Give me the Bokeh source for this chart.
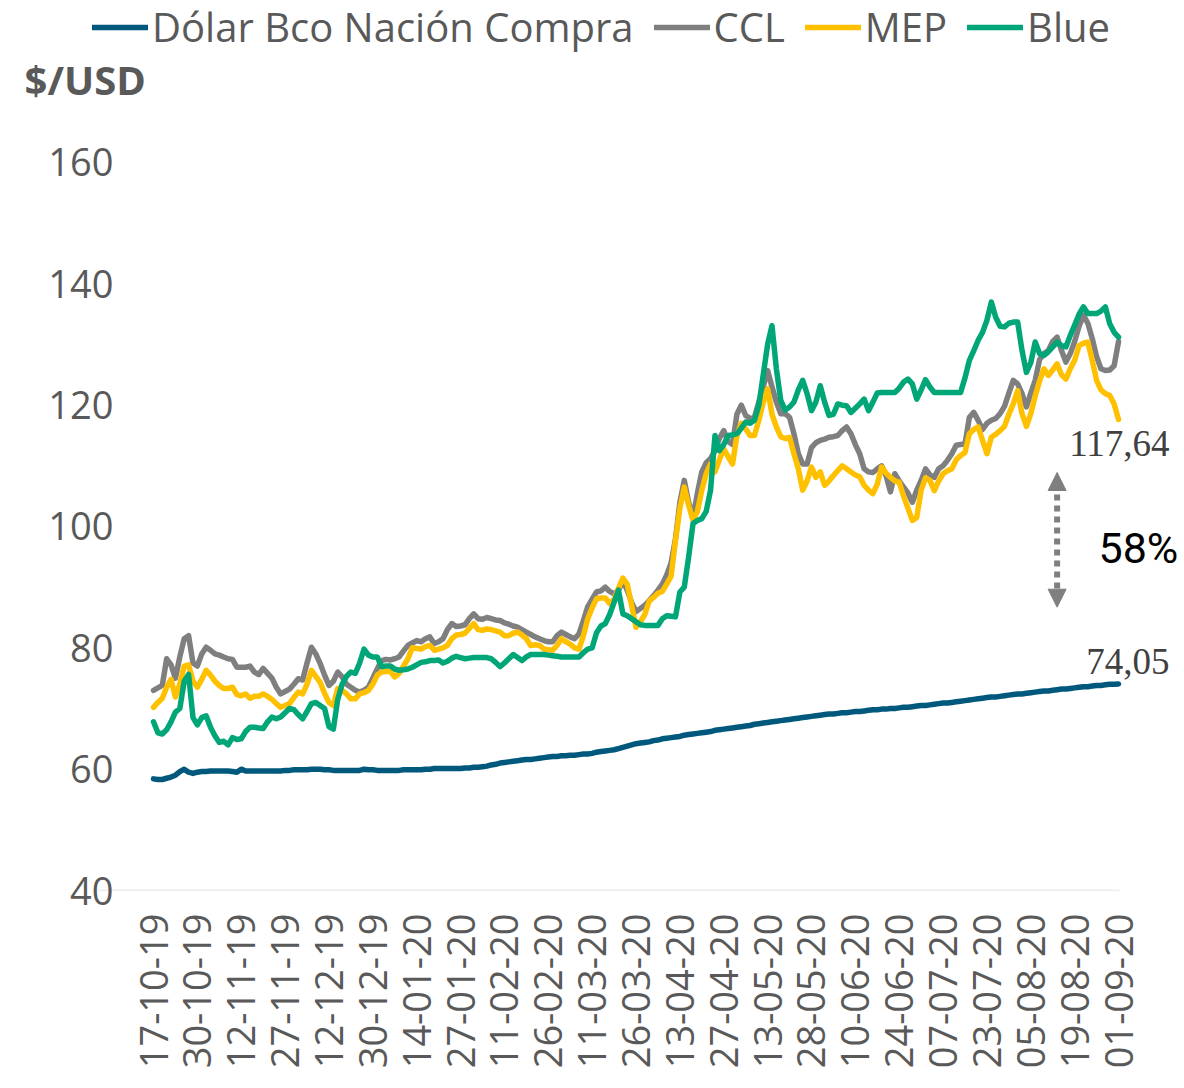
import math
from bokeh.plotting import figure
from bokeh.models import FixedTicker, Legend, LegendItem, Label, Arrow, NormalHead, Range1d
from bokeh.embed import file_html
from bokeh.resources import INLINE

# ---------------- data (daily, index 0 = 17-10-19 ... 220 = 01-09-20) ----------------
tick_labels = ["17-10-19", "30-10-19", "12-11-19", "27-11-19", "12-12-19", "30-12-19",
               "14-01-20", "27-01-20", "11-02-20", "26-02-20", "11-03-20", "26-03-20",
               "13-04-20", "27-04-20", "13-05-20", "28-05-20", "10-06-20", "24-06-20",
               "07-07-20", "23-07-20", "05-08-20", "19-08-20", "01-09-20"]
tick_index = [0, 10, 20, 30, 40, 50, 60, 70, 80, 90, 100, 110, 120, 130, 140, 150,
              160, 170, 180, 190, 200, 210, 220]

bna = [58.4, 58.3, 58.3, 58.5, 58.7, 59.0, 59.6, 60.0, 59.5, 59.3,
       59.5, 59.6, 59.6, 59.7, 59.7, 59.7, 59.7, 59.7, 59.6, 59.5,
       60.0, 59.7, 59.7, 59.7, 59.7, 59.7, 59.7, 59.7, 59.7, 59.7,
       59.8, 59.8, 59.9, 59.9, 59.9, 59.9, 60.0, 60.0, 60.0, 59.9,
       59.9, 59.8, 59.8, 59.8, 59.8, 59.8, 59.8, 59.8, 60.0, 59.9,
       59.9, 59.8, 59.8, 59.8, 59.8, 59.8, 59.8, 59.9, 59.9, 59.9,
       59.9, 59.9, 60.0, 60.0, 60.1, 60.1, 60.1, 60.1, 60.1, 60.1,
       60.1, 60.2, 60.2, 60.3, 60.3, 60.4, 60.5, 60.7, 60.8, 61.0,
       61.1, 61.2, 61.3, 61.4, 61.5, 61.6, 61.6, 61.7, 61.8, 61.9,
       62.0, 62.1, 62.1, 62.2, 62.2, 62.3, 62.3, 62.4, 62.5, 62.5,
       62.6, 62.8, 62.9, 63.0, 63.1, 63.2, 63.4, 63.6, 63.8, 64.0,
       64.2, 64.3, 64.4, 64.5, 64.7, 64.8, 65.0, 65.1, 65.2, 65.3,
       65.4, 65.6, 65.7, 65.8, 65.9, 66.0, 66.1, 66.2, 66.4, 66.5,
       66.6, 66.7, 66.8, 66.9, 67.0, 67.1, 67.2, 67.4, 67.5, 67.6,
       67.7, 67.8, 67.9, 68.0, 68.1, 68.2, 68.3, 68.4, 68.5, 68.6,
       68.7, 68.8, 68.9, 69.0, 69.1, 69.1, 69.2, 69.3, 69.3, 69.4,
       69.5, 69.5, 69.6, 69.7, 69.8, 69.8, 69.9, 69.9, 70.0, 70.0,
       70.1, 70.2, 70.2, 70.3, 70.4, 70.5, 70.5, 70.6, 70.7, 70.8,
       70.9, 70.9, 71.0, 71.1, 71.2, 71.3, 71.4, 71.5, 71.6, 71.7,
       71.8, 71.9, 71.9, 72.0, 72.1, 72.2, 72.3, 72.4, 72.4, 72.5,
       72.6, 72.7, 72.8, 72.9, 72.9, 73.0, 73.1, 73.2, 73.2, 73.3,
       73.4, 73.5, 73.6, 73.6, 73.7, 73.8, 73.8, 73.9, 74.0, 74.0,
       74.05]

ccl = [73.0, 73.4, 73.8, 78.2, 77.2, 75.0, 78.5, 81.5, 82.0, 77.5,
       77.0, 79.0, 80.1, 79.6, 79.0, 78.8, 78.5, 78.2, 78.1, 76.8,
       76.8, 76.8, 77.0, 76.0, 75.6, 76.6, 75.8, 75.0, 73.5, 72.4,
       72.8, 73.2, 74.0, 74.9, 74.7, 77.5, 80.1, 79.0, 77.4, 75.5,
       73.8, 74.5, 76.0, 75.2, 74.0, 73.5, 73.0, 72.7, 73.0, 73.5,
       75.0, 76.5, 77.9, 78.1, 78.0, 78.2, 78.5, 79.5, 80.4, 80.8,
       81.2, 81.0, 81.5, 81.8, 80.7, 81.0, 81.5, 83.0, 84.0, 83.5,
       83.6, 83.8, 84.8, 85.6, 84.8, 84.7, 85.0, 84.8, 84.6, 84.5,
       84.1, 83.9, 83.6, 83.4, 83.0, 82.6, 82.2, 81.8, 81.5, 81.2,
       81.0, 81.0, 82.0, 82.6, 82.2, 81.8, 81.5, 82.3, 84.5, 86.8,
       88.0, 89.2, 89.4, 90.0, 89.3, 88.9, 89.5, 91.0, 89.5, 87.5,
       86.0, 86.5, 87.0, 87.8, 88.6, 89.5, 90.5, 92.0, 94.0, 98.0,
       104.0, 107.6, 104.0, 101.5, 105.5, 109.0, 110.5, 111.2, 112.5, 114.5,
       115.8, 114.0, 113.5, 118.5, 120.0, 118.3, 117.8, 118.0, 120.5, 123.0,
       125.7, 123.0, 120.5, 118.6, 118.6, 118.0, 115.3, 112.0, 110.3, 110.3,
       113.0, 113.8, 114.2, 114.4, 114.7, 114.8, 115.0, 115.8, 116.4, 115.3,
       113.5, 112.0, 109.5, 109.0, 108.9, 109.5, 110.0, 108.4, 105.7, 108.7,
       107.5, 106.5, 105.5, 104.0, 106.0, 107.6, 109.5, 108.5, 108.1, 109.5,
       110.0, 110.9, 112.0, 113.4, 113.5, 113.6, 118.0, 118.8, 117.5, 116.0,
       117.0, 117.5, 117.8, 118.6, 119.8, 122.0, 124.1, 123.5, 121.9, 119.7,
       122.0, 124.1, 127.5, 128.5, 129.0, 130.5, 131.2, 129.0, 127.1, 128.5,
       130.5, 133.0, 134.8, 133.5, 131.0, 128.0, 126.0, 125.7, 125.8, 126.5,
       130.5]

mep = [70.2, 71.0, 71.7, 73.5, 74.8, 71.9, 74.0, 77.0, 77.2, 74.5,
       73.5, 74.8, 76.3, 75.5, 74.5, 73.8, 73.3, 73.3, 73.5, 72.3,
       72.1, 72.4, 71.7, 72.0, 72.0, 72.4, 72.0, 71.5, 70.8, 70.2,
       70.5, 70.8, 71.8, 72.7, 72.4, 74.0, 76.3, 75.3, 74.3, 72.5,
       71.0, 70.5, 73.3, 73.0, 72.4, 71.6, 71.6, 72.4, 72.6, 73.0,
       74.0, 75.5, 76.0, 76.1, 76.1, 75.2, 75.8, 77.0, 78.2, 80.0,
       79.9, 79.8, 80.2, 80.4, 79.6, 79.8, 80.0, 80.4, 81.5, 82.1,
       82.2, 82.4, 83.2, 84.0, 83.0, 82.9, 83.1, 83.0, 82.8, 82.6,
       82.0, 82.0, 82.4, 82.6, 82.1, 81.5, 80.4, 80.5, 80.4, 79.8,
       79.7, 79.6, 80.4, 81.5, 81.0, 80.6, 80.0, 79.8, 82.0, 84.8,
       86.6, 88.1, 88.2, 88.2, 87.3, 88.0, 89.8, 91.5, 90.5, 87.0,
       83.4, 84.3, 85.5, 87.7, 88.3, 89.0, 89.3, 90.5, 91.8, 97.7,
       103.0, 106.5, 103.5, 101.0, 102.5, 106.0, 108.7, 110.3, 109.0, 111.0,
       112.8, 111.5, 110.3, 115.0, 117.0, 116.1, 115.0, 115.0, 117.5, 120.5,
       122.7, 118.5, 116.4, 114.8, 114.5, 114.7, 112.0, 109.5, 106.0, 107.5,
       109.8, 108.1, 109.0, 106.8, 107.5, 108.4, 109.2, 110.0, 109.5, 109.0,
       108.5, 108.2, 106.8, 106.0, 105.4, 107.0, 109.8, 108.8, 108.1, 107.5,
       107.3, 105.0, 103.0, 101.0, 101.5, 106.0, 108.0, 107.6, 105.9, 107.5,
       108.7, 109.2, 109.5, 111.0, 111.7, 112.2, 115.3, 116.0, 116.4, 114.2,
       112.0, 114.7, 115.2, 115.8, 116.5, 118.5, 120.2, 122.4, 118.6, 116.5,
       118.6, 121.5, 124.0, 126.0, 124.9, 125.8, 126.8, 125.0, 124.3, 126.0,
       127.4, 129.8, 130.2, 130.4, 127.4, 124.1, 122.5, 121.9, 121.6, 120.2,
       117.64]

blue = [67.8, 66.0, 65.8, 66.5, 67.8, 69.4, 70.0, 74.5, 75.6, 68.5,
        67.3, 68.5, 68.8, 66.9, 65.5, 64.4, 64.6, 64.0, 65.2, 64.9,
        65.0, 66.2, 66.9, 66.9, 66.8, 66.7, 67.8, 68.6, 68.3, 68.6,
        69.3, 70.0, 69.8, 69.0, 68.3, 69.5, 70.8, 71.0, 70.5, 70.0,
        67.0, 66.6, 71.5, 74.0, 75.3, 76.0, 75.8, 77.5, 79.8, 78.8,
        78.5, 78.5, 76.9, 77.0, 77.0, 76.5, 76.3, 76.4, 76.5, 76.8,
        77.2, 77.6, 77.7, 77.9, 77.9, 78.0, 77.5, 77.8, 78.3, 78.6,
        78.4, 78.2, 78.3, 78.4, 78.4, 78.4, 78.4, 78.2, 77.6, 76.9,
        77.5, 78.2, 78.9, 78.4, 77.9, 78.5, 78.9, 78.9, 78.9, 78.9,
        78.8, 78.7, 78.6, 78.5, 78.5, 78.5, 78.5, 78.5, 79.2, 79.8,
        80.0, 82.5, 83.6, 84.0, 85.5, 87.5, 89.5, 85.6, 85.3, 84.8,
        84.3, 83.8, 83.7, 83.7, 83.7, 83.7, 84.8, 85.3, 85.2, 85.1,
        89.2, 90.0, 95.0, 100.5, 101.0, 101.3, 102.5, 106.0, 115.0, 112.5,
        113.5, 115.0, 115.1, 115.3, 116.2, 117.2, 117.0, 117.5, 120.0, 125.0,
        130.0, 133.1, 126.0, 120.8, 119.2, 119.7, 120.5, 122.5, 124.1, 121.9,
        119.1, 120.5, 123.2, 120.5, 118.3, 118.5, 120.2, 120.0, 119.9, 118.8,
        119.5, 120.2, 121.0, 119.1, 120.5, 122.0, 122.1, 122.1, 122.1, 122.1,
        122.8, 123.8, 124.3, 123.5, 121.0, 122.5, 124.2, 123.0, 122.1, 122.1,
        122.1, 122.1, 122.1, 122.1, 122.1, 124.5, 127.4, 129.0, 130.7, 132.0,
        134.0, 137.0, 134.5, 133.0, 132.9, 133.5, 133.7, 133.7, 129.0, 125.4,
        127.0, 130.4, 128.5, 128.2, 128.8, 129.6, 130.4, 129.8, 129.6, 131.5,
        133.2, 135.0, 136.2, 135.1, 135.1, 135.1, 135.5, 136.2, 133.4, 132.0,
        131.2]

series_names = ["Dólar Bco Nación Compra", "CCL", "MEP", "Blue"]
series_colors = ["#00597C", "#7F7F7F", "#FFC000", "#00A677"]
y_ticks = [40, 60, 80, 100, 120, 140, 160]
gap_text = "58%"

# ---------------- figure ----------------
W, H = 1184, 1088
FONT = "Open Sans"
TXT = "#595959"

# frame covers the whole canvas except the date-label band at the bottom,
# so that the legend and the annotations are not clipped
p = figure(width=W, height=H, output_backend="svg", toolbar_location=None,
           x_range=Range1d(-34.88, 235.04), y_range=Range1d(40, 186.7),
           min_border_left=0, min_border_right=0, min_border_top=0,
           min_border_bottom=198)
p.outline_line_color = None
p.grid.visible = False
p.background_fill_color = "white"
p.border_fill_color = "white"

# baseline of the category axis (spans the plotted category range)
p.segment(x0=[-12.54], y0=[y_ticks[0]], x1=[220.23], y1=[y_ticks[0]],
          line_color="#D9D9D9", line_width=1.5)

renderers = []
for vals, col in zip([bna, ccl, mep, blue], series_colors):
    xs = list(range(len(vals)))
    r = p.line(xs, vals, line_color=col, line_width=5.5, line_join="round", line_cap="round")
    renderers.append(r)

# y axis (labels pulled inside the frame)
ya = p.yaxis[0]
ya.ticker = FixedTicker(ticks=y_ticks)
ya.axis_line_color = None
ya.major_tick_line_color = None
ya.minor_tick_line_color = None
ya.major_tick_out = 0
ya.major_tick_in = 0
ya.major_label_standoff = -113
ya.major_label_text_font = FONT
ya.major_label_text_font_size = "38px"
ya.major_label_text_color = TXT

# x axis
xa = p.xaxis[0]
xa.ticker = FixedTicker(ticks=tick_index)
xa.major_label_overrides = {i: lab for i, lab in zip(tick_index, tick_labels)}
xa.major_label_orientation = math.pi / 2
xa.axis_line_color = None
xa.major_tick_line_color = None
xa.minor_tick_line_color = None
xa.major_tick_out = 0
xa.major_tick_in = 0
xa.major_label_standoff = 23
xa.major_label_text_font = FONT
xa.major_label_text_font_size = "38px"
xa.major_label_text_color = TXT

# legend
legend = Legend(items=[LegendItem(label=n, renderers=[r]) for n, r in zip(series_names, renderers)],
                location=(92, 836), orientation="horizontal",
                glyph_width=56, glyph_height=40, label_height=40, label_standoff=4,
                spacing=20, padding=0, margin=0,
                border_line_color=None, background_fill_alpha=0,
                label_text_font=FONT, label_text_font_size="40px", label_text_color=TXT)
p.add_layout(legend, "center")

# unit label
p.add_layout(Label(x=-29.4, y=173.6, text="$/USD", text_font=FONT, text_font_size="40px",
                   text_font_style="bold", text_color=TXT, text_baseline="alphabetic"))

last = len(mep) - 1
fmt = lambda v: f"{v:.2f}".replace(".", ",")
p.add_layout(Label(x=last, y=mep[-1], x_offset=51, y_offset=-24, text=fmt(mep[-1]),
                   text_font="Liberation Serif", text_font_size="37px", text_color="#404040",
                   text_align="right", text_baseline="alphabetic"))
p.add_layout(Label(x=last, y=bna[-1], x_offset=51, y_offset=22, text=fmt(bna[-1]),
                   text_font="Liberation Serif", text_font_size="37px", text_color="#404040",
                   text_align="right", text_baseline="alphabetic"))
p.add_layout(Label(x=last, y=(mep[-1] + bna[-1]) / 2, x_offset=-20, y_offset=4, text=gap_text,
                   text_font="Roboto", text_font_size="43px", text_color="black",
                   text_align="left", text_baseline="alphabetic"))

arrow_col = "#7F7F7F"
p.add_layout(Arrow(start=NormalHead(size=18, fill_color=arrow_col, line_color=arrow_col),
                   end=NormalHead(size=18, fill_color=arrow_col, line_color=arrow_col),
                   x_start=206, y_start=108.9, x_end=206, y_end=86.7,
                   line_color=arrow_col, line_width=6, line_dash="6 5"))

open("out.html", "w").write(file_html(p, INLINE))
